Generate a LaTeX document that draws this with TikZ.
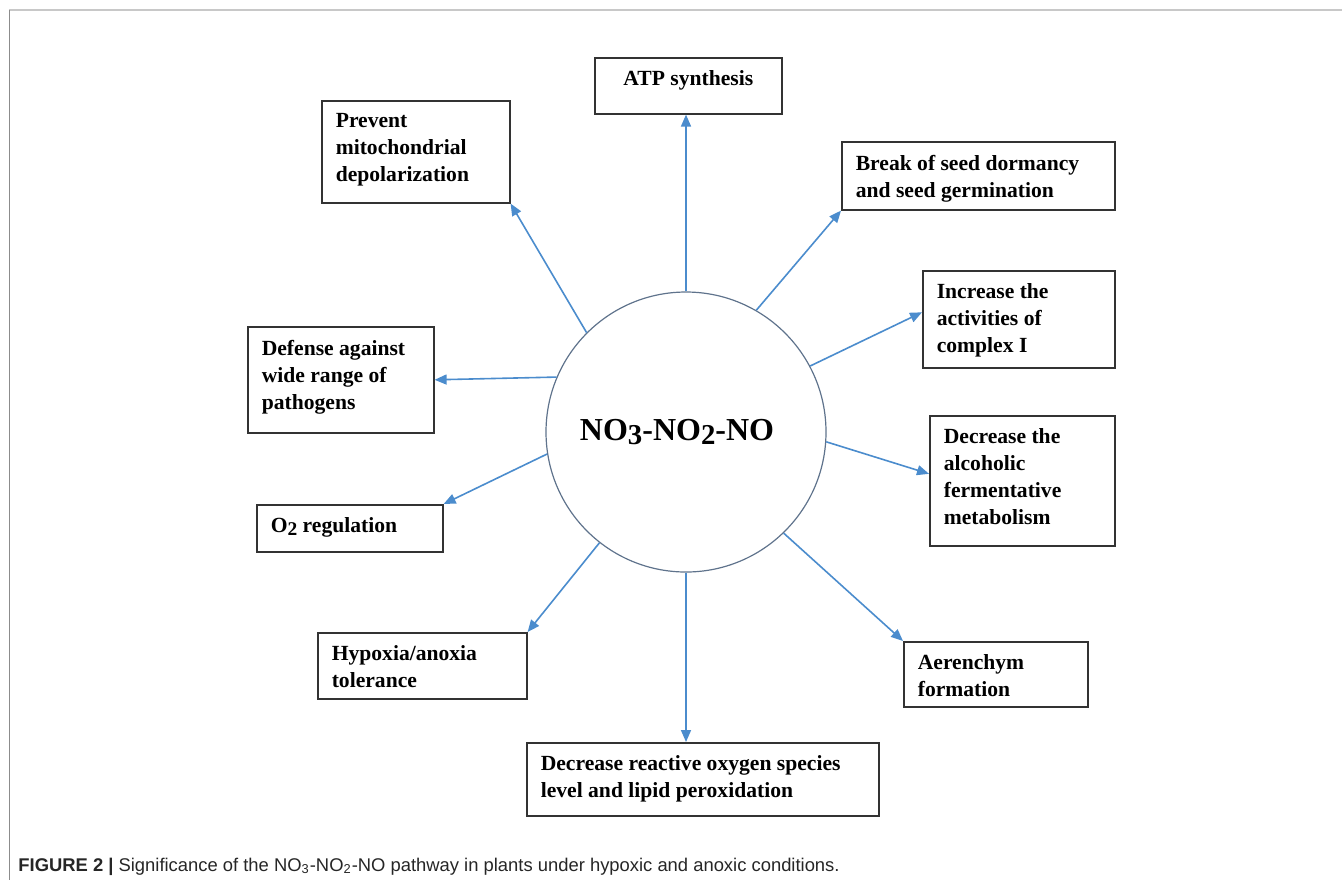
\documentclass[tikz,border=0pt]{standalone}
\usepackage{fontspec}
\setmainfont{Liberation Serif}
\newfontfamily\capfont{Liberation Sans}
\usepackage{graphicx}
\usetikzlibrary{arrows.meta}
\definecolor{rayblue}{RGB}{75,140,205}
\definecolor{hubline}{RGB}{95,115,140}
\definecolor{framegray}{RGB}{200,200,200}
\newcommand{\lowsub}[1]{\raisebox{-0.3ex}{\scalebox{0.9}{#1}}}
\newcommand{\cell}[3]{\parbox[t][\dimexpr #2pt/2-13pt\relax][t]{\dimexpr #1pt/2-14pt\relax}{\raggedright\hyphenpenalty=10000 #3}}

\begin{document}
\begin{tikzpicture}[x=0.5pt, y=-0.5pt, >={Triangle[length=6pt,width=5pt]},
  effect/.style={draw=black!80, line width=0.8pt, inner xsep=7pt, inner ysep=6.5pt, anchor=north west,
    font=\bfseries\fontsize{10.8}{13.5}\selectfont},
  hub/.style={circle, draw=hubline, line width=0.6pt, minimum size=140pt, inner sep=0pt,
    font=\bfseries\fontsize{16}{18}\selectfont},
  ray/.style={->, rayblue, line width=0.8pt}]
  \useasboundingbox (0,0) rectangle (1342,880);
  \draw[framegray, line width=1.2pt] (9,10) -- (1342,10);
  \draw[black!45, line width=0.5pt] (9,10) -- (9,880);
  \node[hub] (pathway) at (686,432) {\hspace*{-9pt}NO\lowsub{3}-NO\lowsub{2}-NO};
  \node[effect] (atp)  at (594,57)  {\cell{187}{56}{\centering ATP synthesis}};
  \node[effect] (seed) at (841,141) {\cell{273}{68}{Break of seed dormancy\\and seed germination}};
  \node[effect] (cplx) at (922,270) {\cell{192}{97}{Increase the\\activities of\\complex I}};
  \node[effect] (ferm) at (929,415) {\cell{185}{130}{Decrease the\\alcoholic\\fermentative\\metabolism}};
  \node[effect] (aer)  at (903,641) {\cell{184}{65}{Aerenchym\\formation}};
  \node[effect] (ros)  at (526,742) {\cell{352}{73}{Decrease reactive oxygen species\\level and lipid peroxidation}};
  \node[effect] (hyp)  at (317,632) {\cell{209}{66}{Hypoxia/anoxia\\tolerance}};
  \node[effect] (oxy)  at (256,504) {\cell{186}{47}{O\lowsub{2} regulation}};
  \node[effect] (def)  at (247,326) {\cell{186}{106}{Defense against\\wide range of\\pathogens}};
  \node[effect] (mito) at (321,100) {\cell{188}{102}{Prevent\\mitochondrial\\depolarization}};
  \draw[ray] (pathway.90) -- (pathway.90 |- atp.south);
  \draw[ray] (pathway.60) -- (seed.south west);
  \draw[ray] (pathway.28) -- ([yshift=3.5pt]cplx.west);
  \draw[ray] (pathway.-4) -- ([yshift=3.5pt]ferm.west);
  \draw[ray] (pathway.-46) -- (aer.north west);
  \draw[ray] (pathway.-90) -- (pathway.-90 |- ros.north);
  \draw[ray] (pathway.-128) -- (hyp.north east);
  \draw[ray] (pathway.-171) -- (oxy.north east);
  \draw[ray] (pathway.157) -- (def.east);
  \draw[ray] (pathway.135) -- (mito.south east);
  \node[anchor=base west, inner sep=0pt, font=\capfont\fontsize{9.2}{11}\selectfont, text=black!85] (caption) at (18,871)
    {\textbf{FIGURE 2} \textbf{|} Significance of the NO\textsubscript{3}-NO\textsubscript{2}-NO pathway in plants under hypoxic and anoxic conditions.};
\end{tikzpicture}
\end{document}
